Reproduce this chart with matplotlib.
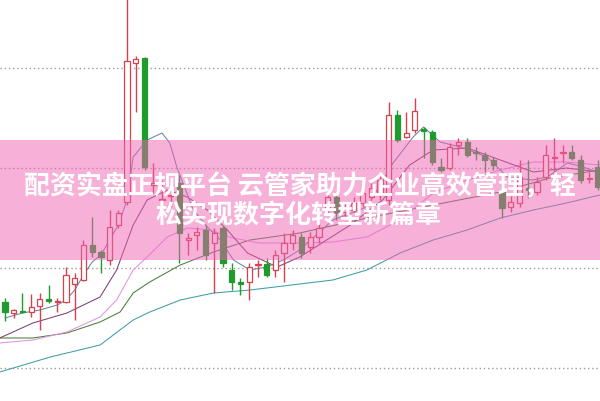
import matplotlib
matplotlib.use('Agg')
import matplotlib.pyplot as plt
from matplotlib.patches import Rectangle

# candle data (open, close, high, low), one per trading day
opens = [8.3, 7.75, 7.85, 7.8, 8.1, 8.45, 8.3, 8.3, 9.2, 9.4,
         11.15, 10.8, 10.4, 12.15, 13.3, 20.25, 20.5, 14.15, 13.4, 13.6,
         14.25, 11.4, 11.65, 11.9, 11.25, 12.0, 9.9, 9.3, 9.3, 10.15,
         10.2, 9.9, 10.75, 11.25, 11.55, 11.05, 11.55, 12.9, 13.55, 12.8,
         12.9, 13.25, 13.55, 13.65, 13.4, 17.65, 16.55, 16.9, 16.95, 16.8,
         15.05, 15.0, 16.15, 16.3, 15.8, 15.65, 15.4, 13.9, 13.05, 13.25,
         14.0, 13.8, 14.55, 15.5, 15.75, 15.8, 15.4, 14.45, 15.05]
closes = [7.8, 7.9, 7.8, 8.05, 8.45, 8.35, 8.35, 9.65, 9.5, 11.15,
          10.8, 10.55, 12.05, 12.75, 20.35, 20.45, 15.05, 14.25, 13.45, 13.65,
          11.75, 11.5, 11.8, 10.65, 11.75, 10.25, 9.3, 9.2, 10.05, 10.2,
          9.65, 10.65, 11.25, 11.65, 10.75, 11.55, 12.0, 13.55, 12.75, 13.0,
          13.25, 13.75, 14.0, 14.4, 17.65, 16.4, 16.75, 17.85, 16.85, 15.3,
          14.9, 16.05, 16.3, 15.65, 15.75, 15.4, 15.15, 13.0, 13.3, 14.55,
          13.9, 14.3, 15.65, 15.55, 15.8, 15.5, 14.4, 14.5, 14.05]
highs = [8.5, 7.95, 8.75, 8.7, 8.75, 9.15, 8.5, 10.05, 9.75, 11.4,
         12.55, 10.9, 12.9, 12.9, 23.9, 20.6, 20.55, 15.25, 14.4, 14.25,
         14.65, 11.75, 12.05, 12.15, 12.0, 12.1, 10.25, 9.5, 10.25, 10.4,
         10.5, 10.9, 11.75, 11.9, 11.75, 11.8, 12.25, 13.75, 13.75, 13.3,
         13.55, 14.0, 14.25, 14.65, 18.3, 17.9, 17.8, 18.5, 17.05, 16.9,
         15.5, 16.25, 16.5, 16.5, 16.05, 15.8, 15.55, 14.15, 13.6, 15.4,
         15.4, 14.55, 16.15, 16.5, 16.15, 16.15, 15.65, 14.8, 15.4]
lows = [7.35, 7.5, 7.75, 7.55, 6.9, 8.25, 7.8, 8.25, 7.4, 9.35,
        10.55, 9.75, 10.15, 12.0, 13.15, 17.8, 14.9, 13.75, 12.4, 13.05,
        10.25, 10.65, 10.9, 10.4, 8.75, 10.05, 8.9, 8.65, 8.4, 9.55,
        9.55, 9.55, 9.3, 10.9, 10.5, 10.75, 11.25, 12.65, 12.4, 12.55,
        12.75, 13.05, 13.4, 13.4, 13.15, 16.3, 16.5, 16.75, 15.5, 15.15,
        14.8, 14.9, 15.65, 15.55, 15.4, 14.8, 14.9, 12.5, 12.8, 13.05,
        13.5, 13.65, 14.4, 14.55, 15.25, 15.4, 14.25, 14.25, 13.9]

# moving averages (x = day index)
ma5_x = [0, 2, 4, 6, 7, 8, 9, 10, 11, 12, 13, 14, 14.7, 16.3, 18, 18.9, 19.7, 21.6, 23.2, 24.7,
         26.2, 28.1, 30, 31.9, 33.8, 37.6, 41.5, 44.5, 46.8, 48, 49.9, 52.2, 55.3, 57.6, 60.5,
         62.2, 64.5, 66.3, 68.2]
ma5_y = [7.5, 7.75, 7.9, 8.15, 8.4, 8.9, 9.65, 10.3, 10.65, 11.4, 12.15, 13.4, 15.55, 16.4, 16.75,
         16.25, 15.05, 12.9, 12.05, 11.4, 10.4, 9.9, 10.05, 10.4, 10.9, 12.4, 13.05, 15.25, 16.55,
         17.05, 16.3, 16.05, 15.55, 14.55, 14.4, 14.55, 15.25, 15.05, 14.75]
ma10_x = [-0.6, 3.2, 7.1, 10.9, 12.8, 14.7, 16.3, 18.6, 20.9, 23.2, 25.5, 27.8, 31.2, 33.8, 39.6,
          43.3, 46.4, 49.1, 53, 56.8, 60.6, 64.4, 68.2]
ma10_y = [6.5, 7.25, 7.75, 8.55, 9.9, 12.15, 13.4, 13.9, 13.55, 12.9, 11.9, 10.75, 10.05, 10.55,
          12.15, 13.4, 15.15, 15.9, 16.0, 15.4, 14.8, 15.0, 14.8]
ma20_x = [-0.6, 3.2, 7.1, 10.9, 12.8, 14.7, 16.3, 18.6, 20.9, 23.5, 26.1, 29.2, 33.8, 37.6, 41.5,
          45.3, 49.1, 53, 56.8, 60.6, 64.4, 68.2]
ma20_y = [6.25, 6.4, 6.8, 7.55, 8.4, 9.9, 10.55, 11.55, 12.0, 11.9, 11.5, 11.25, 11.25, 11.3, 11.55,
          12.4, 13.75, 14.4, 14.9, 15.3, 15.3, 15.15]
ma30_x = [-0.6, 3.2, 7.1, 10.9, 13.2, 14.7, 16.6, 20.1, 23.9, 28.1, 33.8, 41.5, 49.1, 56.8, 62.5, 68.2]
ma30_y = [6.5, 6.5, 6.75, 7.3, 7.8, 8.75, 9.3, 10.15, 10.8, 11.4, 11.75, 12.5, 13.15, 13.8, 14.5, 14.9]
ma60_x = [-0.6, 5.2, 10.9, 14.7, 16.6, 20.1, 23.9, 28.1, 33.8, 37.6, 41.5, 45.3, 49.1, 53, 56.8,
          60.6, 64.4, 68.2]
ma60_y = [4.8, 5.55, 6.15, 7.4, 7.8, 8.4, 8.75, 8.9, 9.2, 9.4, 9.9, 10.75, 11.4, 11.9, 12.5, 12.9,
          13.25, 13.65]

grid_levels = [5, 10, 15, 20]
title_lines = ['配资实盘正规平台 云管家助力企业高效管理，轻', '松实现数字化转型新篇章']

RED = '#d8404c'
GREEN = '#1f9a2c'

fig = plt.figure(figsize=(6, 4.01), dpi=100)
ax = fig.add_axes([0, 0, 1, 1])
ax.set_xlim(-0.573, 68.23)
ax.set_ylim(3.35, 23.4)
ax.axis('off')

for lvl in grid_levels:
    ax.axhline(lvl, color='#9a9a9a', lw=1, linestyle=(0, (1, 2)), zorder=1)

ax.plot(ma60_x, ma60_y, color='#3f9ea3', lw=0.75, zorder=2)
ax.plot(ma30_x, ma30_y, color='#4b7d3c', lw=0.75, zorder=2)
ax.plot(ma20_x, ma20_y, color='#e292e6', lw=0.75, zorder=2)
ax.plot(ma10_x, ma10_y, color='#7c3f70', lw=0.75, zorder=2)
ax.plot(ma5_x, ma5_y, color='#6585ad', lw=0.75, zorder=2)

for i in range(len(opens)):
    o, c, h, l = opens[i], closes[i], highs[i], lows[i]
    up = c >= o
    col = RED if up else GREEN
    ax.vlines(i, l, h, color=col, lw=1, zorder=3)
    bottom = min(o, c)
    height = max(abs(c - o), 0.06)
    ax.add_patch(Rectangle((i - 0.3, bottom), 0.6, height,
                           facecolor='white' if up else GREEN,
                           edgecolor=col, lw=0.9, zorder=4))

# pink banner over the chart
ax.add_patch(Rectangle((0, 1 - 260 / 401), 1, 120 / 401, transform=ax.transAxes,
                       facecolor='#f064b4', alpha=0.5, lw=0, zorder=10))

fam = ['Noto Sans CJK SC', 'DejaVu Sans']
fig.text(0.5, 1 - 187 / 401, title_lines[0], ha='center', va='center', color='white',
         fontsize=18.7, fontweight='heavy', family=fam, zorder=11)
fig.text(0.497, 1 - 216 / 401, title_lines[1], ha='center', va='center', color='white',
         fontsize=18.7, fontweight='heavy', family=fam, zorder=11)

fig.savefig('out.png', dpi=100)
